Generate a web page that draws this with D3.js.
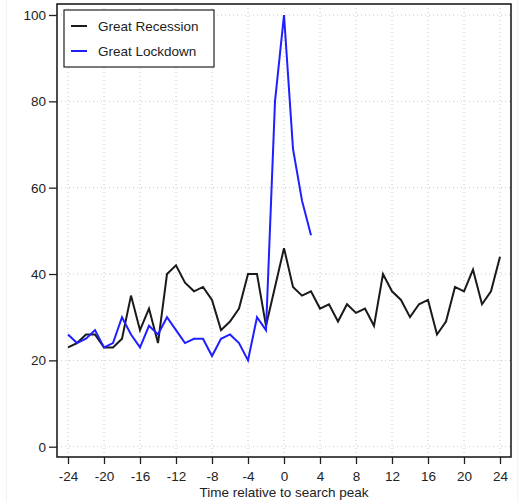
<!DOCTYPE html>
<html><head><meta charset="utf-8">
<script src="https://cdn.jsdelivr.net/npm/d3@7"></script>
<style>body{margin:0;background:#fff}svg{display:block}text{font-family:"Liberation Sans",Arial,sans-serif;fill:#222}</style>
</head><body>
<svg id="c" width="530" height="502"></svg>
<script>
const time = d3.range(-24, 25);
const recession = [23,24,26,26,23,23,25,35,27,32,24,40,42,38,36,37,34,27,29,32,40,40,28,37,46,37,35,36,32,33,29,33,31,32,28,40,36,34,30,33,34,26,29,37,36,41,33,36,44];
const lockdownTime = d3.range(-24, 4);
const lockdown = [26,24,25,27,23,24,30,26,23,28,26,30,27,24,25,25,21,25,26,24,20,30,27,80,100,69,57,49];
const xTicks = [-24,-20,-16,-12,-8,-4,0,4,8,12,16,20,24];
const yTicks = [0,20,40,60,80,100];
const seriesNames = ["Great Recession","Great Lockdown"];
const colors = ["#1a1a1a","#1f1fff"];

const svg = d3.select("#c");
const box = {l:57, r:511, t:4, b:457};
const x = d3.scaleLinear().domain([-24,24]).range([68,500]);
const y = d3.scaleLinear().domain([0,100]).range([446.7,15]);
const FS = 13.5;

// faint page frame
svg.append("line").attr("x1",6.5).attr("x2",6.5).attr("y1",0).attr("y2",502).attr("stroke","#f3f3f3");
svg.append("line").attr("x1",517.5).attr("x2",517.5).attr("y1",0).attr("y2",502).attr("stroke","#f3f3f3");

// grid
const g = svg.append("g");
g.selectAll("line.vg").data(xTicks).join("line")
  .attr("x1",d=>x(d)).attr("x2",d=>x(d)).attr("y1",box.t).attr("y2",box.b)
  .attr("stroke","#c8c8c8").attr("stroke-width",1).attr("stroke-dasharray","1,3");
g.selectAll("line.hg").data(yTicks).join("line")
  .attr("x1",box.l).attr("x2",box.r).attr("y1",d=>y(d)).attr("y2",d=>y(d))
  .attr("stroke","#c8c8c8").attr("stroke-width",1).attr("stroke-dasharray","1,3");

// lines
const line = d3.line().x(d=>x(d[0])).y(d=>y(d[1]));
svg.append("path").datum(d3.zip(time, recession)).attr("d",line)
  .attr("fill","none").attr("stroke",colors[0]).attr("stroke-width",2).attr("stroke-linejoin","miter");
svg.append("path").datum(d3.zip(lockdownTime, lockdown)).attr("d",line)
  .attr("fill","none").attr("stroke",colors[1]).attr("stroke-width",2).attr("stroke-linejoin","miter");

// box
svg.append("rect").attr("x",box.l).attr("y",box.t).attr("width",box.r-box.l).attr("height",box.b-box.t)
  .attr("fill","none").attr("stroke","#111").attr("stroke-width",1.5);

// axes
const xa = svg.append("g").attr("transform",`translate(0,${box.b})`)
  .call(d3.axisBottom(x).tickValues(xTicks).tickSize(7).tickPadding(7).tickFormat(d3.format("d")));
xa.select(".domain").remove();
xa.selectAll("line").attr("stroke","#222").attr("stroke-width",1.3);
xa.selectAll("text").attr("font-size",FS).attr("font-family","Liberation Sans, Arial, sans-serif").attr("fill","#222")
  .text(d=>String(d).replace("−","-"));
const ya = svg.append("g").attr("transform",`translate(${box.l},0)`)
  .call(d3.axisLeft(y).tickValues(yTicks).tickSize(8).tickPadding(3));
ya.select(".domain").remove();
ya.selectAll("line").attr("stroke","#222").attr("stroke-width",1.3);
ya.selectAll("text").attr("font-size",FS).attr("font-family","Liberation Sans, Arial, sans-serif").attr("fill","#222");

svg.append("text").attr("x",(x(-24)+x(24))/2).attr("y",496.5).attr("text-anchor","middle")
  .attr("font-size",FS).text("Time relative to search peak");

// legend
const lg = svg.append("g");
lg.append("rect").attr("x",64).attr("y",10).attr("width",150).attr("height",57)
  .attr("fill","#fff").attr("stroke","#222").attr("stroke-width",1.2);
seriesNames.forEach((n,i)=>{
  const yy = 26 + i*25;
  lg.append("line").attr("x1",71).attr("x2",87).attr("y1",yy).attr("y2",yy)
    .attr("stroke",colors[i]).attr("stroke-width",2);
  lg.append("text").attr("x",98).attr("y",yy+5).attr("font-size",FS).text(n);
});
</script>
</body></html>
